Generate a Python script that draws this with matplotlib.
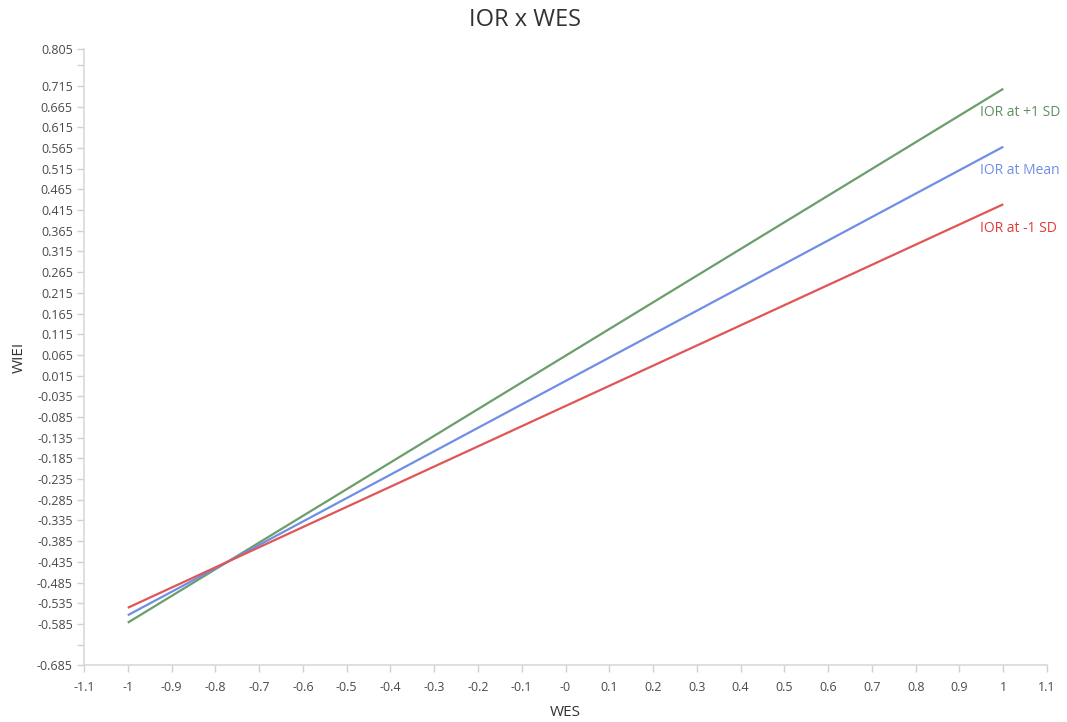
import matplotlib
matplotlib.use("Agg")
import matplotlib.pyplot as plt

plt.rcParams['font.family'] = ['Open Sans', 'DejaVu Sans']

# Simple slopes of WIEI on WES at three levels of IOR
wes_range = [-1.0, 1.0]
series_names = ["IOR at +1 SD", "IOR at Mean", "IOR at -1 SD"]
wiei_plus1sd = [-0.582, 0.708]
wiei_mean = [-0.564, 0.568]
wiei_minus1sd = [-0.546, 0.429]
line_colors = ["#6a9e6a", "#6f8fe6", "#e05555"]
label_colors = ["#5f8f5f", "#6f8fe6", "#e03a3a"]

x_ticks = [-1.1, -1.0, -0.9, -0.8, -0.7, -0.6, -0.5, -0.4, -0.3, -0.2, -0.1, 0.0,
           0.1, 0.2, 0.3, 0.4, 0.5, 0.6, 0.7, 0.8, 0.9, 1.0, 1.1]
x_tick_labels = ["-1.1", "-1", "-0.9", "-0.8", "-0.7", "-0.6", "-0.5", "-0.4", "-0.3",
                 "-0.2", "-0.1", "-0", "0.1", "0.2", "0.3", "0.4", "0.5", "0.6", "0.7",
                 "0.8", "0.9", "1", "1.1"]
y_ticks = [0.805, 0.765, 0.715, 0.665, 0.615, 0.565, 0.515, 0.465, 0.415, 0.365, 0.315,
           0.265, 0.215, 0.165, 0.115, 0.065, 0.015, -0.035, -0.085, -0.135, -0.185,
           -0.235, -0.285, -0.335, -0.385, -0.435, -0.485, -0.535, -0.585, -0.635, -0.685]
y_tick_labels = ["0.805", "", "0.715", "0.665", "0.615", "0.565", "0.515", "0.465", "0.415",
                 "0.365", "0.315", "0.265", "0.215", "0.165", "0.115", "0.065", "0.015",
                 "-0.035", "-0.085", "-0.135", "-0.185", "-0.235", "-0.285", "-0.335",
                 "-0.385", "-0.435", "-0.485", "-0.535", "-0.585", "", "-0.685"]

fig = plt.figure(figsize=(10.67, 7.22), dpi=100)
ax = fig.add_axes([0.0787, 0.0785, 0.9026, 0.8541])

series = [wiei_plus1sd, wiei_mean, wiei_minus1sd]
for name, vals, lc, tc in zip(series_names, series, line_colors, label_colors):
    ax.plot(wes_range, vals, color=lc, linewidth=1.6, solid_capstyle='butt')
    ax.annotate(name, xy=(wes_range[-1], vals[-1]), xytext=(-23, -24),
                textcoords='offset pixels', ha='left', va='center',
                fontsize=10, color=tc)

ax.set_xlim(-1.1, 1.1)
ax.set_ylim(-0.685, 0.805)
ax.set_xticks(x_ticks)
ax.set_xticklabels(x_tick_labels)
ax.set_yticks(y_ticks)
ax.set_yticklabels(y_tick_labels)

for side in ['top', 'right']:
    ax.spines[side].set_visible(False)
for side in ['left', 'bottom']:
    ax.spines[side].set_color('#d9d9d9')
    ax.spines[side].set_linewidth(1.2)

ax.tick_params(axis='both', colors='#d0d0d0', labelcolor='#4a4a4a', length=5,
               width=1.0, labelsize=9)
ax.tick_params(axis='x', pad=6)
ax.tick_params(axis='y', pad=3)

ax.set_xlabel("WES", fontsize=11, color='#333333', labelpad=8)
ax.set_ylabel("WIEI", fontsize=11, color='#333333', labelpad=7)
fig.text(525 / 1067, 1 - 20 / 722, "IOR x WES", ha='center', va='center',
         fontsize=17, color='#333333')

fig.savefig("out.png", dpi=100)
